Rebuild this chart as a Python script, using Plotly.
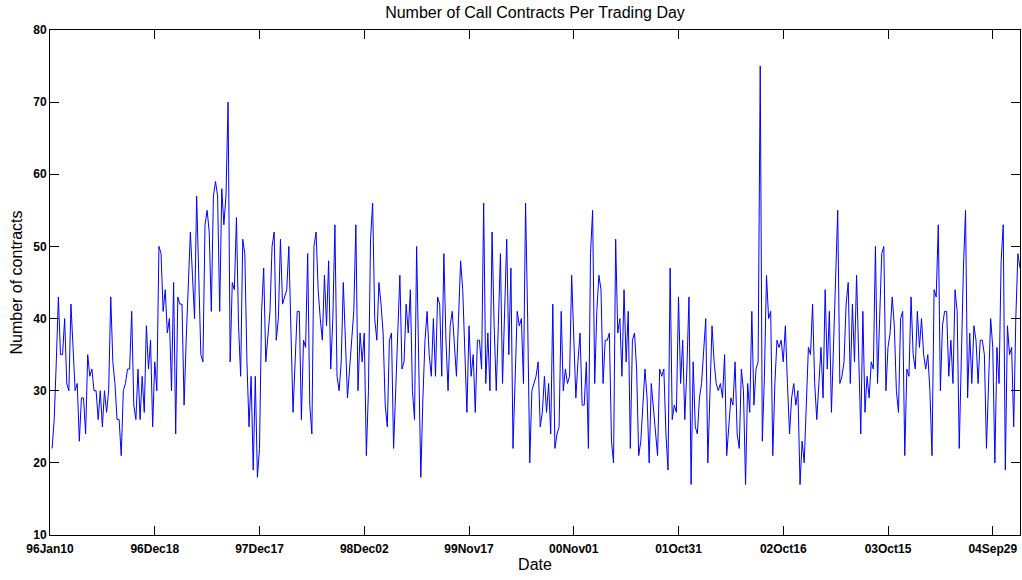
import plotly.graph_objects as go

# Weekly number of call contracts
contracts = [
    # segment 1
    22, 26, 34, 43, 35, 35, 40, 31, 30, 42, 36, 30, 31, 23, 29, 29, 24, 35, 32, 33,
    30, 30, 26, 30, 25, 30, 27, 30, 43, 34, 31, 26, 26, 21, 30, 31, 33, 33,
    # segment 2
    41, 28, 26, 33, 26, 32, 27, 39, 33, 37, 25, 34, 30, 50, 49, 41, 44, 38, 40, 30,
    45, 24, 43, 42, 42, 28, 37, 45, 52, 46, 40, 57, 45, 35, 34, 53, 55, 52, 41,
    # segment 3
    57, 59, 57, 41, 58, 53, 57, 70, 34, 45, 44, 54, 39, 32, 51, 49, 34, 25, 32, 19,
    32, 18, 22, 41, 47, 34, 37, 41, 50, 52, 37, 40, 51, 42, 43, 44, 50, 40,
    # segment 4
    27, 34, 41, 41, 26, 37, 36, 49, 28, 24, 50, 52, 44, 40, 37, 46, 39, 48, 33, 40,
    53, 32, 30, 34, 45, 37, 29, 33, 37, 41, 53, 30, 38, 34, 38, 21, 30, 51, 56,
    # segment 5
    40, 37, 45, 42, 38, 28, 25, 37, 38, 22, 31, 37, 46, 33, 34, 42, 38, 44, 30, 26,
    50, 34, 18, 29, 37, 41, 35, 32, 40, 32, 43, 42, 32, 49, 37, 30, 39, 41, 37,
    # segment 6
    32, 40, 48, 44, 35, 27, 39, 32, 35, 27, 37, 37, 33, 56, 31, 38, 30, 52, 39, 30,
    39, 49, 31, 41, 51, 35, 47, 22, 32, 41, 39, 40, 31, 56, 40, 20, 30, 31,
    # segment 7
    32, 34, 25, 27, 32, 27, 31, 24, 42, 22, 24, 25, 41, 30, 33, 31, 32, 46, 37, 29,
    34, 38, 28, 28, 34, 22, 49, 55, 31, 41, 46, 44, 31, 37, 37, 38, 23, 20, 51,
    # segment 8
    38, 40, 32, 44, 34, 41, 22, 37, 38, 33, 21, 23, 28, 33, 29, 20, 31, 28, 25, 21,
    33, 32, 33, 24, 19, 47, 26, 28, 27, 43, 31, 37, 26, 33, 43, 17, 34, 25, 24,
    # segment 9
    29, 31, 35, 40, 20, 31, 39, 34, 31, 30, 31, 29, 35, 21, 25, 29, 28, 34, 24, 22,
    33, 30, 17, 31, 27, 41, 28, 33, 34, 75, 23, 32, 46, 40, 41, 21, 31, 37, 36,
    # segment 10
    37, 34, 39, 31, 24, 29, 31, 28, 30, 17, 23, 20, 28, 36, 35, 42, 31, 26, 31, 36,
    29, 44, 33, 41, 27, 36, 45, 55, 31, 32, 34, 42, 45, 31, 42, 34, 46, 35,
    # segment 11
    24, 41, 27, 32, 29, 34, 33, 50, 31, 40, 49, 50, 30, 36, 38, 43, 39, 30, 27, 40,
    41, 21, 33, 32, 43, 35, 33, 41, 36, 40, 35, 33, 35, 30, 21, 44, 43, 53, 30,
    # segment 12
    39, 41, 41, 32, 37, 31, 44, 41, 22, 35, 47, 55, 29, 38, 31, 39, 37, 31, 37, 37,
    35, 22, 31, 40, 36, 20, 36, 31, 48, 53, 19, 39, 35, 36, 25, 40, 49, 47,
]

trading_day = list(range(1, len(contracts) + 1))

tick_positions = [0, 50, 100, 150, 200, 250, 300, 350, 400, 450]
tick_labels = ["96Jan10", "96Dec18", "97Dec17", "98Dec02", "99Nov17",
               "00Nov01", "01Oct31", "02Oct16", "03Oct15", "04Sep29"]
y_ticks = [10, 20, 30, 40, 50, 60, 70, 80]

font_family = "Liberation Sans, Arial, Helvetica, sans-serif"

fig = go.Figure()
fig.add_trace(go.Scatter(
    x=trading_day, y=contracts, mode="lines",
    line=dict(color="#0000FF", width=1),
    hoverinfo="x+y", showlegend=False,
))

axis_common = dict(
    showline=True, linecolor="black", linewidth=1, mirror="ticks",
    ticks="inside", ticklen=9, tickwidth=1, tickcolor="black",
    showgrid=False, zeroline=False, automargin=False,
)

W, H = 1022, 580
fig.update_layout(
    width=W, height=H,
    paper_bgcolor="white", plot_bgcolor="white",
    margin=dict(l=50, r=2, t=30, b=45),
    title=dict(text="Number of Call Contracts Per Trading Day",
               x=(50 + W - 2) / 2 / W, xanchor="center", y=1 - 12 / H, yanchor="middle",
               font=dict(family=font_family, size=16, color="black")),
    xaxis=dict(range=[0, len(contracts)], tickvals=tick_positions, ticktext=tick_labels,
               ticklabelstandoff=3,
               tickfont=dict(family=font_family, size=12, color="black", weight="bold"),
               title=dict(text="Date", standoff=2,
                          font=dict(family=font_family, size=16, color="black")),
               **axis_common),
    yaxis=dict(range=[10, 80], tickvals=y_ticks,
               tickfont=dict(family=font_family, size=12, color="black", weight="bold"),
               title=dict(text="Number of contracts", standoff=6,
                          font=dict(family=font_family, size=16, color="black")),
               **axis_common),
)

# remove the page's default body margin so the figure fills the 1022x580 window
fig.write_html(
    "out.html",
    config={"displayModeBar": False},
    post_script="document.body.style.margin='0px';document.body.style.padding='0px';"
                "document.body.style.overflow='hidden';",
)
